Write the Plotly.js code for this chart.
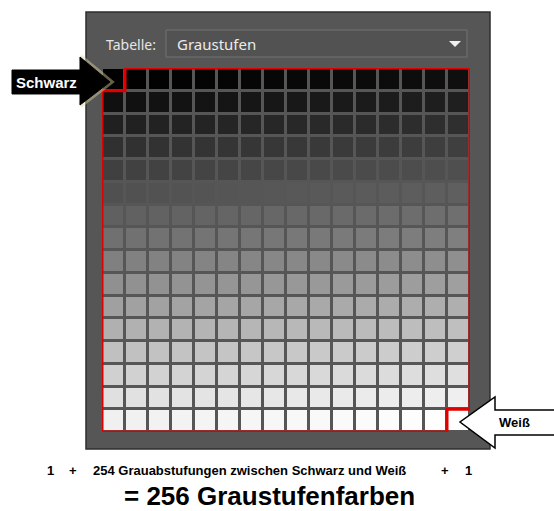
<!DOCTYPE html>
<html>
<head>
<meta charset="utf-8">
<script src="https://cdn.plot.ly/plotly-3.0.1.min.js"></script>
<style>html,body{margin:0;padding:0;background:#fff;}#chart{width:554px;height:511px;}</style>
</head>
<body>
<div id="chart"></div>
<script>
// Gray levels of the 16x16 colour table (row by row, 0 = Schwarz, 255 = Weiß)
const grayLevels = [
  [0,1,2,3,4,5,6,7,8,9,10,11,12,13,14,15],
  [16,17,18,19,20,21,22,23,24,25,26,27,28,29,30,31],
  [32,33,34,35,36,37,38,39,40,41,42,43,44,45,46,47],
  [48,49,50,51,52,53,54,55,56,57,58,59,60,61,62,63],
  [64,65,66,67,68,69,70,71,72,73,74,75,76,77,78,79],
  [80,81,82,83,84,85,86,87,88,89,90,91,92,93,94,95],
  [96,97,98,99,100,101,102,103,104,105,106,107,108,109,110,111],
  [112,113,114,115,116,117,118,119,120,121,122,123,124,125,126,127],
  [128,129,130,131,132,133,134,135,136,137,138,139,140,141,142,143],
  [144,145,146,147,148,149,150,151,152,153,154,155,156,157,158,159],
  [160,161,162,163,164,165,166,167,168,169,170,171,172,173,174,175],
  [176,177,178,179,180,181,182,183,184,185,186,187,188,189,190,191],
  [192,193,194,195,196,197,198,199,200,201,202,203,204,205,206,207],
  [208,209,210,211,212,213,214,215,216,217,218,219,220,221,222,223],
  [224,225,226,227,228,229,230,231,232,233,234,235,236,237,238,239],
  [240,241,242,243,244,245,246,247,248,249,250,251,252,253,254,255]
];
const colIndex = [0,1,2,3,4,5,6,7,8,9,10,11,12,13,14,15];
const rowIndex = [0,1,2,3,4,5,6,7,8,9,10,11,12,13,14,15];

const tableLabel = "Tabelle:";
const tableName = "Graustufen";
const blackLabel = "Schwarz";
const whiteLabel = "Weiß";
const formulaParts = ["1", "+", "254 Grauabstufungen zwischen Schwarz und Weiß", "+", "1"];
const resultLabel = "= 256 Graustufenfarben";

const W = 554, H = 511;
const px = x => x / W;
const py = y => 1 - y / H;
function pathPx(points, close) {
  return points.map((p, i) => (i ? "L" : "M") + px(p[0]).toFixed(5) + "," + py(p[1]).toFixed(5)).join(" ") + (close === false ? "" : " Z");
}

const n = colIndex.length;
const lo = -0.5, hi = n - 0.5;
// red outline around the in-between levels (excludes first and last cell)
const redPath = `M ${lo+1},${lo} L ${hi},${lo} L ${hi},${hi-1} L ${hi-1},${hi-1} L ${hi-1},${hi} L ${lo},${hi} L ${lo},${lo+1} L ${lo+1},${lo+1} Z`;

const trace = {
  type: "heatmap",
  x: colIndex, y: rowIndex, z: grayLevels,
  zmin: 0, zmax: 255,
  colorscale: [[0, "rgb(0,0,0)"], [1, "rgb(255,255,255)"]],
  showscale: false,
  xgap: 3, ygap: 3,
  hoverinfo: "skip"
};

const blackArrow = [[12,70],[80,70],[80,57],[110,82],[80,105],[80,94],[12,94]];
const blackHead = [[80,57],[110,82],[80,105]];
const whiteArrow = [[560,410],[495,410],[495,397],[460,422],[495,448],[495,435],[560,435]];

const bold = "Liberation Sans, Arial, sans-serif";
const ui = "Noto Sans, DejaVu Sans, sans-serif";

const layout = {
  width: W, height: H,
  margin: {l: 0, r: 0, t: 0, b: 0},
  paper_bgcolor: "#ffffff",
  plot_bgcolor: "#5f5f5f",
  showlegend: false,
  xaxis: {domain: [px(102), px(470)], range: [lo, hi], visible: false, fixedrange: true},
  yaxis: {domain: [py(432), py(68)], range: [hi, lo], visible: false, fixedrange: true},
  shapes: [
    // panel
    {type: "rect", xref: "paper", yref: "paper", x0: px(86), x1: px(490), y0: py(449), y1: py(12),
     fillcolor: "#565656", line: {color: "#2e2e2e", width: 1.5}, layer: "below"},
    // dropdown box
    {type: "rect", xref: "paper", yref: "paper", x0: px(166), x1: px(467), y0: py(57), y1: py(30),
     fillcolor: "#525252", line: {color: "#727272", width: 1}, layer: "below"},
    // dropdown triangle
    {type: "path", xref: "paper", yref: "paper", path: pathPx([[449,41],[461,41],[455,47]]),
     fillcolor: "#f0f0f0", line: {width: 0}},
    // red outline
    {type: "path", xref: "x", yref: "y", path: redPath, line: {color: "#e00000", width: 3}, fillcolor: "rgba(0,0,0,0)"},
    // Schwarz arrow glow (head) + arrow
    {type: "path", xref: "paper", yref: "paper", path: pathPx(blackHead, false),
     fillcolor: "rgba(0,0,0,0)", line: {color: "rgba(225,215,160,0.45)", width: 6}},
    {type: "path", xref: "paper", yref: "paper", path: pathPx(blackArrow),
     fillcolor: "#000000", line: {color: "#000000", width: 1}},
    // Weiß arrow
    {type: "path", xref: "paper", yref: "paper", path: pathPx(whiteArrow),
     fillcolor: "#ffffff", line: {color: "#000000", width: 1.5}}
  ],
  annotations: [
    {xref: "paper", yref: "paper", x: px(104), y: py(44), xanchor: "left", yanchor: "middle", showarrow: false,
     text: tableLabel, font: {family: ui, size: 14, color: "#e6e6e6"}},
    {xref: "paper", yref: "paper", x: px(175), y: py(44), xanchor: "left", yanchor: "middle", showarrow: false,
     text: tableName, font: {family: ui, size: 15, color: "#ececec"}},
    {xref: "paper", yref: "paper", x: px(46), y: py(82), xanchor: "center", yanchor: "middle", showarrow: false,
     text: "<b>" + blackLabel + "</b>", font: {family: bold, size: 15, color: "#ffffff"}},
    {xref: "paper", yref: "paper", x: px(514), y: py(422), xanchor: "center", yanchor: "middle", showarrow: false,
     text: "<b>" + whiteLabel + "</b>", font: {family: bold, size: 13, color: "#000000"}},
    {xref: "paper", yref: "paper", x: px(50), y: py(470), xanchor: "center", yanchor: "middle", showarrow: false,
     text: "<b>" + formulaParts[0] + "</b>", font: {family: bold, size: 13, color: "#000"}},
    {xref: "paper", yref: "paper", x: px(73), y: py(470), xanchor: "center", yanchor: "middle", showarrow: false,
     text: "<b>" + formulaParts[1] + "</b>", font: {family: bold, size: 13, color: "#000"}},
    {xref: "paper", yref: "paper", x: px(250), y: py(470), xanchor: "center", yanchor: "middle", showarrow: false,
     text: "<b>" + formulaParts[2] + "</b>", font: {family: bold, size: 13, color: "#000"}},
    {xref: "paper", yref: "paper", x: px(445), y: py(470), xanchor: "center", yanchor: "middle", showarrow: false,
     text: "<b>" + formulaParts[3] + "</b>", font: {family: bold, size: 13, color: "#000"}},
    {xref: "paper", yref: "paper", x: px(468), y: py(470), xanchor: "center", yanchor: "middle", showarrow: false,
     text: "<b>" + formulaParts[4] + "</b>", font: {family: bold, size: 13, color: "#000"}},
    {xref: "paper", yref: "paper", x: px(269), y: py(496), xanchor: "center", yanchor: "middle", showarrow: false,
     text: "<b>" + resultLabel + "</b>", font: {family: bold, size: 26, color: "#000"}}
  ]
};

Plotly.newPlot("chart", [trace], layout, {displayModeBar: false, staticPlot: true});
</script>
</body>
</html>
